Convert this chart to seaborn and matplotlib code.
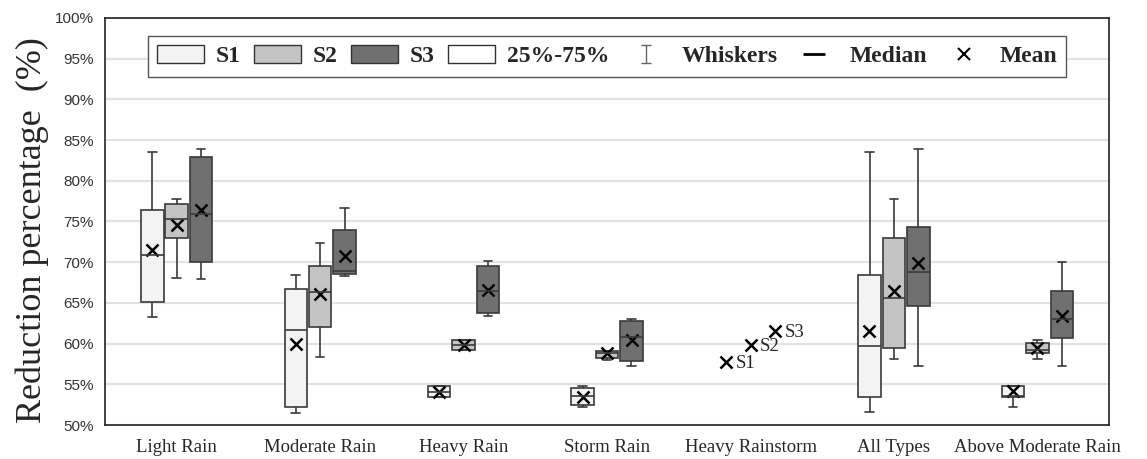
import numpy as np
import pandas as pd
import seaborn as sns
import matplotlib.pyplot as plt
from matplotlib.patches import Patch
from matplotlib.lines import Line2D
from matplotlib.path import Path

# --- data (percent) ---
categories = ['Light Rain', 'Moderate Rain', 'Heavy Rain', 'Storm Rain',
              'Heavy Rainstorm', 'All Types', 'Above Moderate Rain']
scenarios = ['S1', 'S2', 'S3']
nan = np.nan

# whisker low, q1, median, q3, whisker high, mean
s1_low = [63.3, 51.5, 53.4, 52.2, nan, 51.6, 52.2]
s1_q1 = [65.1, 52.2, 53.4, 52.4, nan, 53.4, 53.4]
s1_med = [70.9, 61.7, 54.1, 53.6, nan, 59.7, 53.6]
s1_q3 = [76.4, 66.7, 54.8, 54.5, nan, 68.4, 54.8]
s1_high = [83.5, 68.4, 54.8, 54.8, nan, 83.5, 54.8]
s1_mean = [71.5, 59.9, 54.1, 53.4, 57.7, 61.6, 54.2]

s2_low = [68.1, 58.3, 59.2, 58.0, nan, 58.1, 58.1]
s2_q1 = [73.0, 62.1, 59.2, 58.2, nan, 59.4, 58.9]
s2_med = [75.3, 66.3, 59.8, 58.8, nan, 65.6, 59.2]
s2_q3 = [77.1, 69.5, 60.5, 59.1, nan, 73.0, 60.1]
s2_high = [77.8, 72.3, 60.5, 59.1, nan, 77.8, 60.4]
s2_mean = [74.6, 66.1, 59.8, 58.8, 59.8, 66.4, 59.4]

s3_low = [67.9, 68.3, 63.4, 57.3, nan, 57.3, 57.3]
s3_q1 = [70.0, 68.6, 63.8, 57.9, nan, 64.6, 60.7]
s3_med = [75.9, 68.9, 66.5, 60.8, nan, 68.8, 63.0]
s3_q3 = [82.9, 73.9, 69.5, 62.8, nan, 74.3, 66.4]
s3_high = [83.9, 76.7, 70.1, 63.0, nan, 83.9, 70.0]
s3_mean = [76.4, 70.8, 66.6, 60.5, 61.5, 69.9, 63.4]

colors = {'S1': '#f4f3f4', 'S2': '#c4c4c4', 'S3': '#707070'}

# --- build long-form tables ---
stats = {
    'S1': [s1_low, s1_q1, s1_med, s1_q3, s1_high],
    'S2': [s2_low, s2_q1, s2_med, s2_q3, s2_high],
    'S3': [s3_low, s3_q1, s3_med, s3_q3, s3_high],
}
means = {'S1': s1_mean, 'S2': s2_mean, 'S3': s3_mean}

rows = []
for s in scenarios:
    for i, cat in enumerate(categories):
        for arr in stats[s]:
            if not np.isnan(arr[i]):
                rows.append((cat, s, arr[i]))
box_df = pd.DataFrame(rows, columns=['type', 'scenario', 'value'])

mean_df = pd.DataFrame([(cat, s, means[s][i]) for s in scenarios
                        for i, cat in enumerate(categories)],
                       columns=['type', 'scenario', 'value'])

# --- plot ---
sns.set_style('white')
plt.rcParams['font.family'] = ['Liberation Serif', 'DejaVu Serif']

fig, ax = plt.subplots(figsize=(11.47, 4.59), dpi=100)
fig.subplots_adjust(left=0.0915, right=0.967, bottom=0.074, top=0.961)

sns.boxplot(data=box_df, x='type', y='value', hue='scenario',
            order=categories, hue_order=scenarios, palette=colors,
            saturation=1, width=0.51, gap=0.08, whis=(0, 100),
            showfliers=False, linecolor='#3a3a3a', linewidth=1.2,
            legend=False, ax=ax)

# shorten whisker caps (seaborn draws them at half the box width)
for ln in ax.lines:
    xd, yd = np.asarray(ln.get_xdata(), float), np.asarray(ln.get_ydata(), float)
    if len(xd) == 2 and yd[0] == yd[1] and 0 < abs(xd[1] - xd[0]) < 0.12:
        c = xd.mean()
        ln.set_xdata([c - 0.03, c + 0.03])

sns.pointplot(data=mean_df, x='type', y='value', hue='scenario',
              order=categories, hue_order=scenarios,
              palette={'S1': 'black', 'S2': 'black', 'S3': 'black'},
              markers='x', linestyle='none', dodge=0.342, errorbar=None,
              markersize=9, markeredgewidth=1.8, legend=False, ax=ax)

# labels next to the single heavy rainstorm points
k = categories.index('Heavy Rainstorm')
for j, s in enumerate(scenarios):
    ax.text(k + (j - 1) * 0.171 + 0.065, means[s][k] - 0.1, s,
            fontsize=13.5, va='center', ha='left')

ax.set_ylim(50, 100)
ax.set_xlim(-0.5, len(categories) - 0.5)
ax.set_yticks(np.arange(50, 101, 5))
ax.set_yticklabels([f'{v}%' for v in range(50, 101, 5)],
                   fontfamily='Liberation Sans', fontsize=11, color='#333333')
ax.tick_params(axis='y', length=0, pad=8)
ax.tick_params(axis='x', length=5, width=1, color='#333333', labelsize=13.5, pad=5)
ax.yaxis.grid(True, color='#e2e2e2', linewidth=1.5)
ax.set_axisbelow(True)
for sp in ax.spines.values():
    sp.set_visible(True)
    sp.set_color('#222222')
    sp.set_linewidth(1.2)

ax.set_xlabel('')
ax.set_ylabel('Reduction percentage  (%)', fontsize=26)
ax.yaxis.set_label_coords(-0.056, 0.48)

# legend
ibeam = Path([(-0.5, 1), (0.5, 1), (0, 1), (0, -1), (-0.5, -1), (0.5, -1)],
             [Path.MOVETO, Path.LINETO, Path.MOVETO, Path.LINETO,
              Path.MOVETO, Path.LINETO])
handles = [
    Patch(facecolor=colors['S1'], edgecolor='#333333'),
    Patch(facecolor=colors['S2'], edgecolor='#333333'),
    Patch(facecolor=colors['S3'], edgecolor='#333333'),
    Patch(facecolor='white', edgecolor='#333333'),
    Line2D([], [], marker=ibeam, color='#666666', linestyle='none',
           markersize=13, markeredgewidth=1.0),
    Line2D([], [], marker='_', color='black', linestyle='none',
           markersize=16, markeredgewidth=2),
    Line2D([], [], color='black', marker='x', linestyle='none',
           markersize=8, markeredgewidth=1.5),
]
labels = ['S1', 'S2', 'S3', '25%-75%', 'Whiskers', 'Median', 'Mean']
leg = ax.legend(handles, labels, ncol=7, loc='upper center',
                bbox_to_anchor=(0.5, 0.985), frameon=True, fancybox=False,
                edgecolor='#555555', framealpha=1, borderpad=0.4,
                prop={'family': 'Liberation Serif', 'weight': 'bold', 'size': 17},
                handlelength=2.0, handleheight=0.8, handletextpad=0.5,
                columnspacing=0.55)
leg.get_frame().set_linewidth(1.0)

fig.savefig('out.png', dpi=100)
